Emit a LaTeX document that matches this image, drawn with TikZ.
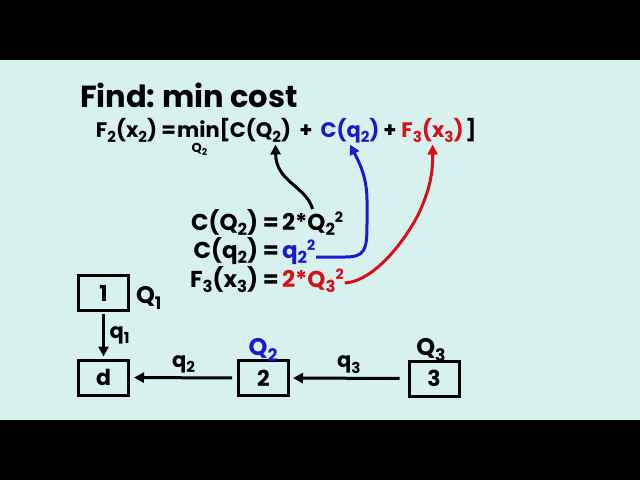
\documentclass[tikz,border=0pt]{standalone}
\usepackage{fontspec}
\setmainfont{Poppins}
\usetikzlibrary{arrows.meta}
\definecolor{bgcyan}{RGB}{215,241,238}
\definecolor{eqblue}{RGB}{25,25,205}
\definecolor{eqred}{RGB}{215,15,25}
\makeatletter
\newcommand{\sub}[1]{\raisebox{-0.26em}{\fontsize{\fpeval{0.72*\f@size}}{1}\selectfont #1}}
\newcommand{\super}[1]{\raisebox{0.32em}{\fontsize{\fpeval{0.62*\f@size}}{1}\selectfont #1}}
\makeatother
\tikzset{
  txt/.style = {inner sep=0pt, outer sep=0pt, anchor=base,
                font=\bfseries\fontsize{#1}{#1}\selectfont},
  txt/.default = 21,
  box/.style = {draw, line width=3pt, minimum width=50pt, minimum height=35pt,
                inner sep=0pt, font=\bfseries\fontsize{22}{22}\selectfont},
  arr/.style = {line width=3pt, -{Triangle[length=10pt,width=10pt]}}
}

\begin{document}
\begin{tikzpicture}[x=1pt, y=-1pt]
	\def \eqy{137}
	\def \la{230}
	\def \lb{258}
	\def \lc{287}

	\fill[black] (0,0) rectangle (640,480);
	\fill[bgcyan] (0,60) rectangle (640,420);

	% Title
	\node[txt=30.5, anchor=base west] (find) at (80,107) {Find:\ min cost};

	% Equation
	\node[txt] (eqF2) at (136,\eqy) {F\sub{2}(x\sub{2}) =};
	\node[txt] (eqmin) at (198.5,\eqy) {min};
	\node[txt=13] (eqQ2) at (199.5,152) {Q\sub{2}};
	\node[txt] (eqlb) at (225,\eqy) {[};
	\node[txt] (eqCQ) at (260.5,\eqy) {C(Q\sub{2})};
	\node[txt] (eqpa) at (306,\eqy) {+};
	\node[txt, text=eqblue] (eqcq) at (350,\eqy) {C(q\sub{2})};
	\node[txt] (eqpb) at (390,\eqy) {+};
	\node[txt, text=eqred] (eqF3) at (432.5,\eqy) {F\sub{3}(x\sub{3})};
	\node[txt] (eqrb) at (471,\eqy) {]};

	% Cost terms
	\node[txt=23, anchor=base east] (cQ) at (279,\la) {C(Q\sub{2}) =};
	\node[txt=23, anchor=base west] (cQval) at (282,\la) {2*Q\sub{2}\super{2}};
	\node[txt=23, anchor=base east] (cq) at (279,\lb) {C(q\sub{2}) =};
	\node[txt=23, anchor=base west, text=eqblue] (cqval) at (282,\lb) {q\sub{2}\super{2}};
	\node[txt=23, anchor=base east] (F3) at (279,\lc) {F\sub{3}(x\sub{3}) =};
	\node[txt=23, anchor=base west, text=eqred] (F3val) at (282,\lc) {2*Q\sub{3}\super{2}};

	% Links
	\draw[arr] ([yshift=3pt]cQval.north) .. controls (306,186) and (276,182) .. ([xshift=15pt,yshift=-2pt]eqCQ.south);
	\draw[arr, eqblue] ([xshift=1pt,yshift=1pt]cqval.base east) -- (345,257) .. controls (365,257) and (367,250) .. (367,224)
		-- (367,200) .. controls (367,176) and (358,160) .. ([yshift=-2pt]eqcq.south);
	\draw[arr, eqred] ([xshift=1pt,yshift=4pt]F3val.base east) .. controls (375,281) and (405,240) .. (418,215)
		.. controls (430,190) and (433,172) .. ([yshift=-2pt]eqF3.south);

	% Nodes
	\node[box] (n1) at (103.5,293) {1};
	\node[box] (nd) at (103.5,377.5) {d};
	\node[box] (n2) at (263.5,378) {2};
	\node[box] (n3) at (434,378.5) {3};

	\node[txt=24, anchor=base west] (Q1) at (136,303) {Q\sub{1}};
	\node[txt=24, text=eqblue] (Q2) at (263,355) {Q\sub{2}};
	\node[txt=24] (Q3) at (431,355) {Q\sub{3}};

	% Flows
	\draw[arr, shorten <=2pt, shorten >=2pt] (n1) -- (nd) node[midway, right=6pt, txt=21, anchor=west] (q1) {q\sub{1}};
	\draw[arr, shorten <=5pt, shorten >=4pt] (n2) -- (nd) node[midway, above=5pt, txt=21, anchor=south] (q2) {q\sub{2}};
	\draw[arr, shorten <=8pt, shorten >=3pt] (n3) -- (n2) node[midway, above=5pt, txt=21, anchor=south] (q3) {q\sub{3}};
\end{tikzpicture}
\end{document}
